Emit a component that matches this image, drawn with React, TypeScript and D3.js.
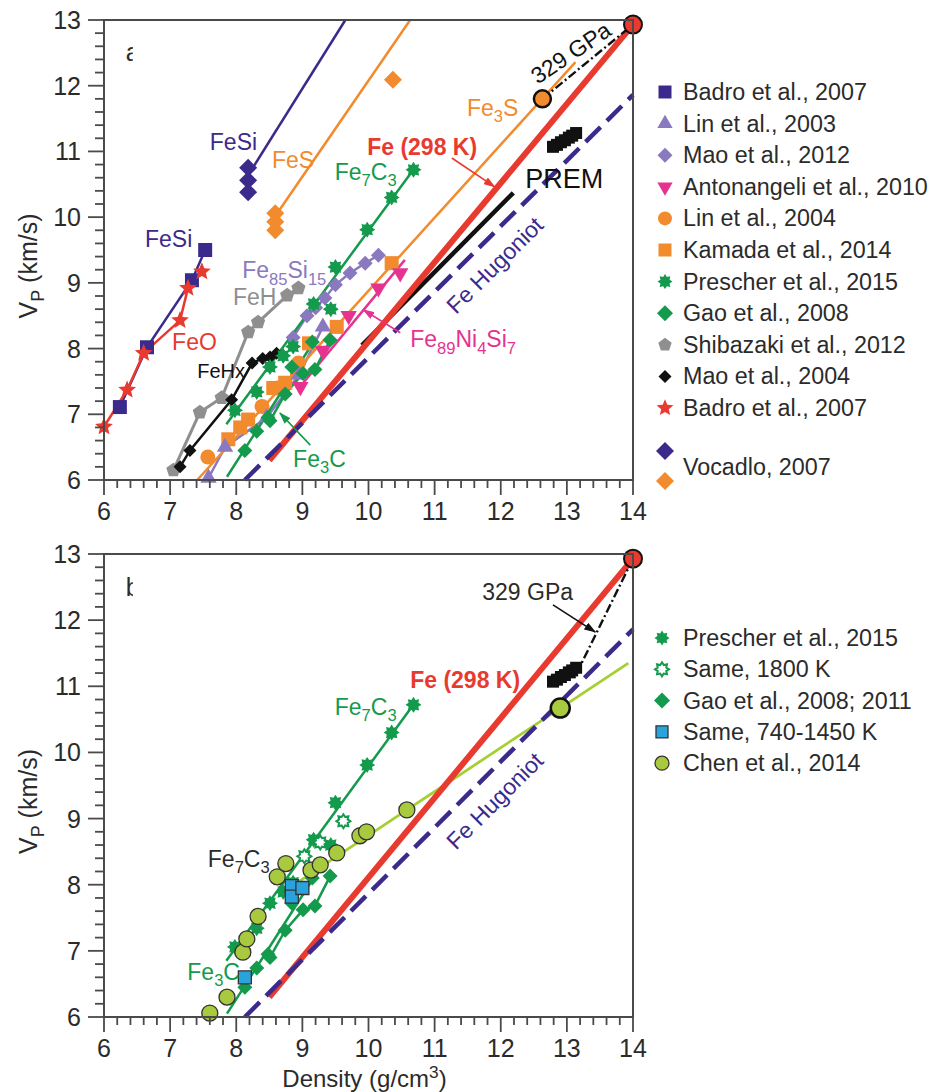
import React from "react";
import * as d3 from "d3";

type P = [number, number];

const FONT = "'Liberation Sans', Arial, Helvetica, sans-serif";

const C = {
  navy: "#3b2a8c",
  lav: "#8b79c0",
  pink: "#e5338f",
  orange: "#f28a2e",
  green: "#149a4c",
  grey: "#8f8f8f",
  black: "#111111",
  red: "#e83a2f",
  blue: "#2aa3dc",
  lime: "#a9c93e",
  limeLine: "#a6cf34",
  axis: "#4a4a4a",
  text: "#2b2b2b",
};

// ---------- data (density g/cm3, Vp km/s) ----------
const xTickLabels = [6, 7, 8, 9, 10, 11, 12, 13, 14];
const yTickLabels = [6, 7, 8, 9, 10, 11, 12, 13];

const badroFeSi: P[] = [[6.24, 7.11], [6.65, 8.02], [7.33, 9.04], [7.53, 9.5]];
const badroFeO: P[] = [[6.0, 6.81], [6.35, 7.37], [6.6, 7.93], [7.15, 8.43], [7.27, 8.92], [7.48, 9.17]];
const vocadloFeSi: P[] = [[8.18, 10.75], [8.18, 10.56], [8.18, 10.38]];
const vocadloFeSiFit: P[] = [[8.25, 10.75], [9.65, 13.0]];
const vocadloFeS: P[] = [[8.59, 10.06], [8.59, 9.93], [8.59, 9.8], [10.37, 12.09]];
const vocadloFeSFit: P[] = [[8.62, 10.06], [10.63, 13.0]];
const shibazakiFeH: P[] = [[7.05, 6.15], [7.45, 7.03], [7.78, 7.25], [8.18, 8.25], [8.33, 8.4], [8.77, 8.81], [8.94, 8.92]];
const maoFeHx: P[] = [[7.15, 6.2], [7.3, 6.45], [7.93, 7.22], [8.24, 7.78], [8.4, 7.85], [8.51, 7.87], [8.61, 7.93]];
const lin2003: P[] = [[7.58, 6.03], [7.83, 6.5], [8.46, 6.95], [8.95, 7.6], [9.31, 8.33]];
const mao2012: P[] = [[8.86, 8.17], [9.07, 8.5], [9.2, 8.62], [9.34, 8.77], [9.5, 8.97], [9.72, 9.15], [9.95, 9.3], [10.15, 9.42]];
const antonangeli: P[] = [[8.97, 7.42], [9.31, 7.97], [9.7, 8.5], [10.15, 8.92], [10.48, 9.15]];
const antonangeliFit: P[] = [[8.95, 7.4], [10.55, 9.35]];
const lin2004: P[] = [[7.57, 6.35], [8.39, 7.12], [8.62, 7.4], [8.94, 7.78]];
const kamada: P[] = [[7.88, 6.62], [8.06, 6.8], [8.18, 6.92], [8.56, 7.4], [8.74, 7.48], [8.92, 7.64], [9.1, 8.08], [9.52, 8.33], [10.35, 9.3]];
const fe3SFit: P[] = [[7.41, 6.0], [13.13, 12.36]];
const fe3SEnd: P = [12.63, 11.8];
const prescher: P[] = [[7.98, 7.06], [8.31, 7.34], [8.51, 7.72], [8.71, 7.89], [8.86, 8.03], [9.17, 8.68], [9.43, 8.6], [9.5, 9.24], [9.98, 9.81], [10.35, 10.3], [10.68, 10.72]];
const prescherFit: P[] = [[7.85, 6.85], [10.7, 10.75]];
const prescherHot: P[] = [[9.03, 8.43], [9.27, 8.64], [9.62, 8.96]];
const gaoFe3C: P[] = [[8.13, 6.45], [8.31, 6.74], [8.48, 6.95], [8.84, 7.72], [9.15, 8.1]];
const gaoFe3CFit: P[] = [[7.86, 6.05], [9.2, 8.15]];
const gaoFe7C3: P[] = [[8.51, 6.9], [8.74, 7.31], [9.01, 7.62], [9.19, 7.68], [9.42, 8.13]];
const gaoHot: P[] = [[8.13, 6.6], [8.84, 7.98], [8.84, 7.82], [9.0, 7.95]];
const chen: P[] = [[7.6, 6.06], [7.86, 6.3], [8.1, 6.98], [8.16, 7.18], [8.33, 7.52], [8.62, 8.12], [8.75, 8.32], [9.13, 8.22], [9.27, 8.3], [9.52, 8.48], [9.87, 8.74], [9.97, 8.8], [10.58, 9.13]];
const chenFit: P[] = [[8.95, 8.05], [13.93, 11.35]];
const chenEnd: P = [12.9, 10.67];
const premLine: P[] = [[9.9, 8.05], [12.19, 10.37]];
const premCore: P[] = [[12.79, 11.07], [12.85, 11.1], [12.91, 11.14], [12.97, 11.17], [13.03, 11.21], [13.08, 11.24], [13.14, 11.28]];
const fe298: P[] = [[8.5, 6.3], [14.0, 12.93]];
const feHugoniot: P[] = [[8.13, 6.0], [14.0, 11.86]];
const innerCore: P = [14.0, 12.93];
const gpaTop: P[] = [fe3SEnd, innerCore];
const gpaBottom: P[] = [innerCore, [13.1, 11.1]];

const legendTop: [string, string, string, number][] = [
  ["Badro et al., 2007", "square", C.navy, 13],
  ["Lin et al., 2003", "triUp", C.lav, 15],
  ["Mao et al., 2012", "diamond", C.lav, 15],
  ["Antonangeli et al., 2010", "triDown", C.pink, 15],
  ["Lin et al., 2004", "circle", C.orange, 14],
  ["Kamada et al., 2014", "square", C.orange, 13],
  ["Prescher et al., 2015", "burst", C.green, 15],
  ["Gao et al., 2008", "diamond", C.green, 16],
  ["Shibazaki et al., 2012", "pentagon", C.grey, 14],
  ["Mao et al., 2004", "diamond", C.black, 13],
  ["Badro et al., 2007", "star5", C.red, 16],
];
const legendBottom: [string, string, string, number][] = [
  ["Prescher et al., 2015", "burst", C.green, 15],
  ["Same, 1800 K", "burstOpen", C.green, 14],
  ["Gao et al., 2008; 2011", "diamond", C.green, 16],
  ["Same, 740-1450 K", "squareBlue", C.blue, 12],
  ["Chen et al., 2014", "circleLime", C.lime, 14],
];

// ---------- geometry ----------
const X_RANGE: [number, number] = [104, 633];
const TOP_RANGE: [number, number] = [480, 20];
const BOT_RANGE: [number, number] = [1017, 554];

// ---------- symbols ----------
const polyType = (n: number, inner: number | null, rot: number, scale = 1): d3.SymbolType => ({
  draw(ctx, size) {
    const r = (Math.sqrt(size) / 2) * scale;
    const m = inner ? n * 2 : n;
    for (let i = 0; i < m; i++) {
      const rr = inner && i % 2 ? r * inner : r;
      const a = rot + (i * 2 * Math.PI) / m;
      if (i === 0) ctx.moveTo(rr * Math.cos(a), rr * Math.sin(a));
      else ctx.lineTo(rr * Math.cos(a), rr * Math.sin(a));
    }
    ctx.closePath();
  },
});
const circleType: d3.SymbolType = {
  draw(ctx, size) {
    const r = Math.sqrt(size) / 2;
    ctx.moveTo(r, 0);
    ctx.arc(0, 0, r, 0, 2 * Math.PI);
  },
};
const SHAPES: Record<string, d3.SymbolType> = {
  square: d3.symbolSquare,
  squareBlue: d3.symbolSquare,
  circle: circleType,
  circleLime: circleType,
  diamond: polyType(4, null, -Math.PI / 2, 1),
  triUp: polyType(3, null, -Math.PI / 2, 1.18),
  triDown: polyType(3, null, Math.PI / 2, 1.18),
  pentagon: polyType(5, null, -Math.PI / 2, 1),
  star5: polyType(5, 0.45, -Math.PI / 2, 1.1),
  burst: polyType(8, 0.66, -Math.PI / 2, 1),
  burstOpen: polyType(8, 0.66, -Math.PI / 2, 1),
};
const symPath = (shape: string, d: number) => d3.symbol(SHAPES[shape], d * d)() as string;

function Marker({ shape, color, d, x, y }: { shape: string; color: string; d: number; x: number; y: number }) {
  let fill = color;
  let stroke = "none";
  let sw = 0;
  if (shape === "burstOpen") { fill = "#fff"; stroke = color; sw = 2; }
  if (shape === "squareBlue" || shape === "circleLime") { stroke = "#333"; sw = 1.3; }
  return <path d={symPath(shape, d)} transform={`translate(${x},${y})`} fill={fill} stroke={stroke} strokeWidth={sw} />;
}

// subscripts with _{..}, superscripts with ^{..}
function Rich({ s, size, ...rest }: any) {
  const tokens = s.split(/(_\{[^}]*\}|\^\{[^}]*\})/).filter(Boolean);
  let shift = 0;
  const out = tokens.map((t: string, i: number) => {
    let target = 0;
    let txt = t;
    let fs: number | undefined;
    if (t.startsWith("_{")) { target = size * 0.28; txt = t.slice(2, -1); fs = size * 0.72; }
    else if (t.startsWith("^{")) { target = -size * 0.36; txt = t.slice(2, -1); fs = size * 0.72; }
    const dy = target - shift;
    shift = target;
    return <tspan key={i} dy={dy || undefined} fontSize={fs}>{txt}</tspan>;
  });
  return <text fontSize={size} {...rest}>{out}</text>;
}

type Scales = { x: d3.ScaleLinear<number, number>; y: d3.ScaleLinear<number, number> };

function Axes({ x, y, tag }: Scales & { tag: string }) {
  const [x0, x1] = x.range();
  const [yb, yt] = y.range();
  const minorX = d3.range(6, 14.001, 0.2).map((v) => +v.toFixed(1));
  const minorY = d3.range(6, 13.001, 0.2).map((v) => +v.toFixed(1));
  return (
    <g>
      <rect x={x0} y={yt} width={x1 - x0} height={yb - yt} fill="none" stroke={C.axis} strokeWidth={2} />
      {minorX.map((v) => {
        const major = Math.abs(v - Math.round(v)) < 1e-6;
        return <line key={"x" + v} x1={x(v)} x2={x(v)} y1={yb} y2={yb + (major ? 15 : 8)} stroke={C.axis} strokeWidth={1.8} />;
      })}
      {minorY.map((v) => {
        const major = Math.abs(v - Math.round(v)) < 1e-6;
        return <line key={"y" + v} x1={x0} x2={x0 - (major ? 16 : 9)} y1={y(v)} y2={y(v)} stroke={C.axis} strokeWidth={1.8} />;
      })}
      {xTickLabels.map((v) => (
        <text key={"xl" + v} x={x(v)} y={yb + 40} fontSize={25} textAnchor="middle" fill={C.text}>{v}</text>
      ))}
      {yTickLabels.map((v) => (
        <text key={"yl" + v} x={x0 - 23} y={y(v) + 9} fontSize={25} textAnchor="end" fill={C.text}>{v}</text>
      ))}
      <Rich s="V_{P} (km/s)" size={25} fill={C.text} textAnchor="middle"
        transform={`translate(37,${(yb + yt) / 2 + 16}) rotate(-90)`} />
      <clipPath id={"clip" + tag}>
        <rect x={x(6.33)} y={yt + 20} width={7} height={30} />
      </clipPath>
      <text x={x(6.33)} y={y(12.37)} fontSize={25} fill={C.text} clipPath={`url(#clip${tag})`}>{tag}</text>
    </g>
  );
}

function Symbols({ pts, shape, color, d, x, y }: Scales & { pts: P[]; shape: string; color: string; d: number }) {
  return (
    <g>
      {pts.map((p, i) => <Marker key={i} shape={shape} color={color} d={d} x={x(p[0])} y={y(p[1])} />)}
    </g>
  );
}

function Line({ pts, color, w, dash, x, y }: Scales & { pts: P[]; color: string; w: number; dash?: string }) {
  const gen = d3.line<P>().x((p) => x(p[0])).y((p) => y(p[1]));
  return <path d={gen(pts) as string} fill="none" stroke={color} strokeWidth={w} strokeDasharray={dash} />;
}

function angleOf(pts: P[], x: any, y: any) {
  const dx = x(pts[1][0]) - x(pts[0][0]);
  const dy = y(pts[1][1]) - y(pts[0][1]);
  return (Math.atan2(dy, dx) * 180) / Math.PI;
}

function Arrow({ from, to, color, id, x, y }: Scales & { from: P; to: P; color: string; id: string }) {
  return <line x1={x(from[0])} y1={y(from[1])} x2={x(to[0])} y2={y(to[1])} stroke={color} strokeWidth={1.6} markerEnd={`url(#${id})`} />;
}

const LW = 2.5;

function TopPanel() {
  const x = d3.scaleLinear().domain([6, 14]).range(X_RANGE);
  const y = d3.scaleLinear().domain([6, 13]).range(TOP_RANGE);
  const s = { x, y };
  const hugAngle = angleOf(feHugoniot, x, y);
  return (
    <g>
      <Line {...s} pts={vocadloFeSiFit} color={C.navy} w={LW} />
      <Line {...s} pts={vocadloFeSFit} color={C.orange} w={LW} />
      <Line {...s} pts={badroFeSi} color={C.navy} w={LW} />
      <Line {...s} pts={badroFeO} color={C.red} w={LW} />
      <Line {...s} pts={shibazakiFeH} color={C.grey} w={3} />
      <Line {...s} pts={maoFeHx} color={C.black} w={LW} />
      <Line {...s} pts={lin2003} color={C.lav} w={LW} />
      <Line {...s} pts={mao2012} color={C.lav} w={LW} />
      <Line {...s} pts={antonangeliFit} color={C.pink} w={LW} />
      <Line {...s} pts={fe3SFit} color={C.orange} w={LW} />
      <Line {...s} pts={prescherFit} color={C.green} w={LW} />
      <Line {...s} pts={gaoFe3CFit} color={C.green} w={LW} />
      <Line {...s} pts={gaoFe7C3} color={C.green} w={LW} />
      <Line {...s} pts={premLine} color={C.black} w={4.5} />
      <Line {...s} pts={fe298} color={C.red} w={6} />
      <Line {...s} pts={feHugoniot} color={C.navy} w={4.5} dash="21,9" />
      <Line {...s} pts={gpaTop} color={C.black} w={2.4} dash="9,3,2,3" />

      <Symbols {...s} pts={premCore} shape="square" color={C.black} d={12} />
      <Symbols {...s} pts={shibazakiFeH} shape="pentagon" color={C.grey} d={15} />
      <Symbols {...s} pts={maoFeHx} shape="diamond" color={C.black} d={13} />
      <Symbols {...s} pts={lin2004} shape="circle" color={C.orange} d={15} />
      <Symbols {...s} pts={kamada} shape="square" color={C.orange} d={14} />
      <Symbols {...s} pts={lin2003} shape="triUp" color={C.lav} d={16} />
      <Symbols {...s} pts={mao2012} shape="diamond" color={C.lav} d={15} />
      <Symbols {...s} pts={antonangeli} shape="triDown" color={C.pink} d={16} />
      <Symbols {...s} pts={gaoFe3C} shape="diamond" color={C.green} d={15} />
      <Symbols {...s} pts={gaoFe7C3} shape="diamond" color={C.green} d={15} />
      <Symbols {...s} pts={prescher} shape="burst" color={C.green} d={16} />
      <Symbols {...s} pts={badroFeSi} shape="square" color={C.navy} d={14} />
      <Symbols {...s} pts={badroFeO} shape="star5" color={C.red} d={17} />
      <Symbols {...s} pts={vocadloFeSi} shape="diamond" color={C.navy} d={18} />
      <Symbols {...s} pts={vocadloFeS} shape="diamond" color={C.orange} d={18} />

      <circle cx={x(fe3SEnd[0])} cy={y(fe3SEnd[1])} r={8.5} fill={C.orange} stroke="#111" strokeWidth={2.5} />
      <circle cx={x(innerCore[0])} cy={y(innerCore[1])} r={9} fill={C.red} stroke="#111" strokeWidth={2} />

      <Rich s="FeSi" size={23} x={x(7.6)} y={y(11.02)} fill={C.navy} />
      <Rich s="FeS" size={23} x={x(8.54)} y={y(10.75)} fill={C.orange} />
      <Rich s="FeSi" size={23} x={x(6.62)} y={y(9.55)} fill={C.navy} />
      <Rich s="FeO" size={23} x={x(7.03)} y={y(7.98)} fill={C.red} />
      <Rich s="FeH" size={23} x={x(7.95)} y={y(8.66)} fill={C.grey} />
      <Rich s="FeHx" size={20} x={x(7.41)} y={y(7.55)} fill={C.black} />
      <Rich s="Fe_{85}Si_{15}" size={23} x={x(8.09)} y={y(9.07)} fill={C.lav} />
      <Rich s="Fe_{7}C_{3}" size={23} x={x(9.49)} y={y(10.57)} fill={C.green} />
      <Rich s="Fe_{3}S" size={23} x={x(11.49)} y={y(11.54)} fill={C.orange} />
      <Rich s="Fe_{89}Ni_{4}Si_{7}" size={23} x={x(10.63)} y={y(8.02)} fill={C.pink} />
      <Rich s="Fe_{3}C" size={23} x={x(8.86)} y={y(6.2)} fill={C.green} />
      <text x={x(9.98)} y={y(10.95)} fontSize={23} fontWeight="bold" fill={C.red}>Fe (298 K)</text>
      <text x={x(12.37)} y={y(10.44)} fontSize={27} fill={C.black}>PREM</text>
      <text transform={`translate(${x(11.91)},${y(9.27)}) rotate(${hugAngle})`} textAnchor="middle" dominantBaseline="central" fontSize={23} fill={C.navy}>Fe Hugoniot</text>
      <text transform={`translate(${x(13.06)},${y(12.5)}) rotate(-34)`} textAnchor="middle" dominantBaseline="central" fontSize={23} fill={C.black}>329 GPa</text>
      <Arrow {...s} from={[11.26, 10.9]} to={[11.91, 10.46]} color={C.red} id="arRed" />
      <Arrow {...s} from={[10.48, 8.24]} to={[9.92, 8.59]} color={C.pink} id="arPink" />
      <Arrow {...s} from={[9.12, 6.53]} to={[8.66, 7.02]} color={C.green} id="arGreen" />
      <Axes {...s} tag="a" />
    </g>
  );
}

function BottomPanel() {
  const x = d3.scaleLinear().domain([6, 14]).range(X_RANGE);
  const y = d3.scaleLinear().domain([6, 13]).range(BOT_RANGE);
  const s = { x, y };
  const hugAngle = angleOf(feHugoniot, x, y);
  return (
    <g>
      <Line {...s} pts={chenFit} color={C.limeLine} w={2.8} />
      <Line {...s} pts={prescherFit} color={C.green} w={LW} />
      <Line {...s} pts={gaoFe3CFit} color={C.green} w={LW} />
      <Line {...s} pts={gaoFe7C3} color={C.green} w={LW} />
      <Line {...s} pts={fe298} color={C.red} w={6} />
      <Line {...s} pts={feHugoniot} color={C.navy} w={4.5} dash="21,9" />
      <Line {...s} pts={gpaBottom} color={C.black} w={2.4} dash="9,3,2,3" />

      <Symbols {...s} pts={premCore} shape="square" color={C.black} d={12} />
      <Symbols {...s} pts={gaoFe3C} shape="diamond" color={C.green} d={15} />
      <Symbols {...s} pts={gaoFe7C3} shape="diamond" color={C.green} d={15} />
      <Symbols {...s} pts={prescher} shape="burst" color={C.green} d={16} />
      <Symbols {...s} pts={prescherHot} shape="burstOpen" color={C.green} d={14} />
      <Symbols {...s} pts={chen} shape="circleLime" color={C.lime} d={16} />
      <Symbols {...s} pts={gaoHot} shape="squareBlue" color={C.blue} d={13} />

      <circle cx={x(chenEnd[0])} cy={y(chenEnd[1])} r={9.5} fill={C.lime} stroke="#111" strokeWidth={2.5} />
      <circle cx={x(innerCore[0])} cy={y(innerCore[1])} r={9} fill={C.red} stroke="#111" strokeWidth={2} />

      <Rich s="Fe_{7}C_{3}" size={23} x={x(9.49)} y={y(10.57)} fill={C.green} />
      <Rich s="Fe_{7}C_{3}" size={23} x={x(7.57)} y={y(8.27)} fill={C.text} />
      <Rich s="Fe_{3}C" size={23} x={x(7.26)} y={y(6.56)} fill={C.green} />
      <text x={x(10.63)} y={y(10.97)} fontSize={23} fontWeight="bold" fill={C.red}>Fe (298 K)</text>
      <text x={x(11.72)} y={y(12.3)} fontSize={23} fill={C.text}>329 GPa</text>
      <text transform={`translate(${x(11.91)},${y(9.27)}) rotate(${hugAngle})`} textAnchor="middle" dominantBaseline="central" fontSize={23} fill={C.navy}>Fe Hugoniot</text>
      <Arrow {...s} from={[12.79, 12.23]} to={[13.43, 11.82]} color={C.black} id="arBlack" />
      <Axes {...s} tag="b" />
      <Rich s="Density (g/cm^{3})" size={24} x={(X_RANGE[0] + X_RANGE[1]) / 2 - 4} y={1087} textAnchor="middle" fill={C.text} />
    </g>
  );
}

function Legend({ items, x0, tx, y0, dy }: { items: [string, string, string, number][]; x0: number; tx: number; y0: number; dy: number }) {
  return (
    <g>
      {items.map(([label, shape, color, d], i) => (
        <g key={i}>
          <Marker shape={shape} color={color} d={d} x={x0} y={y0 + i * dy} />
          <text x={tx} y={y0 + i * dy + 8} fontSize={23.3} fill={C.text}>{label}</text>
        </g>
      ))}
    </g>
  );
}

export default function App() {
  const arrowIds: [string, string][] = [["arRed", C.red], ["arPink", C.pink], ["arGreen", C.green], ["arBlack", C.black]];
  return (
    <svg width={933} height={1092} style={{ position: "absolute", left: 0, top: 0, background: "#fff" }} fontFamily={FONT}>
      <defs>
        {arrowIds.map(([id, col]) => (
          <marker key={id} id={id} viewBox="0 0 12 8" refX={11} refY={4} markerWidth={12} markerHeight={8} markerUnits="userSpaceOnUse" orient="auto">
            <path d="M0,0 L12,4 L0,8 Z" fill={col} />
          </marker>
        ))}
      </defs>
      <rect width={933} height={1092} fill="#fff" />
      <TopPanel />
      <BottomPanel />
      <Legend items={legendTop} x0={665} tx={683} y0={92} dy={31.6} />
      <Marker shape="diamond" color={C.navy} d={18} x={665} y={451} />
      <Marker shape="diamond" color={C.orange} d={18} x={665} y={481} />
      <text x={683} y={475} fontSize={23.3} fill={C.text}>Vocadlo, 2007</text>
      <Legend items={legendBottom} x0={662} tx={683} y0={638} dy={31.3} />
    </svg>
  );
}
